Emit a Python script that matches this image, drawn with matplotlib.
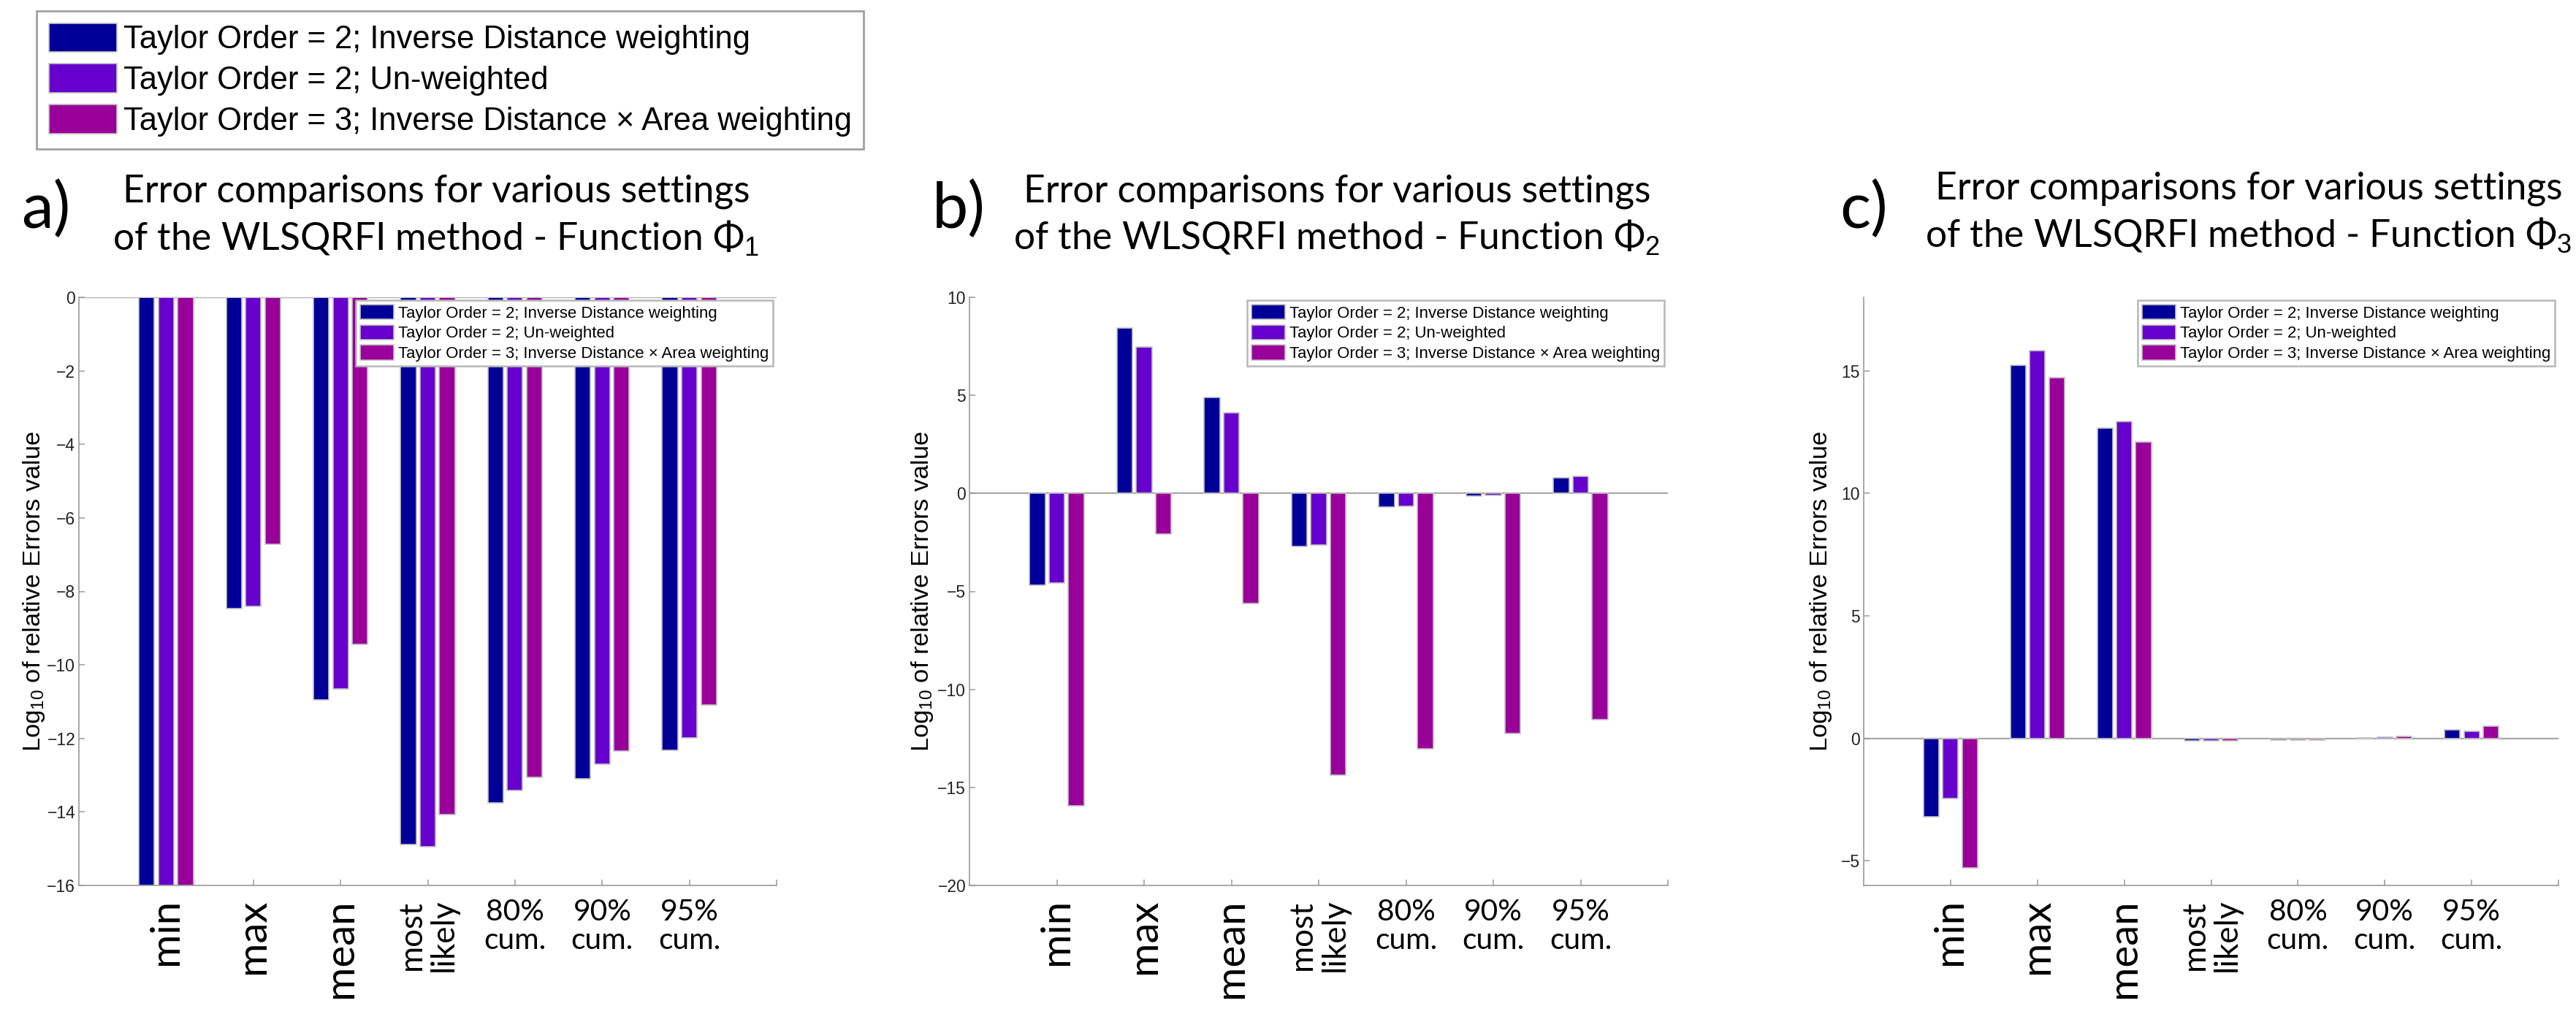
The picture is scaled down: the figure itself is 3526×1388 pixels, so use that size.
import matplotlib.pyplot as plt
import numpy as np

plt.rcParams["font.family"] = ["Liberation Sans", "DejaVu Sans"]
plt.rcParams["mathtext.fontset"] = "custom"
plt.rcParams["mathtext.rm"] = "Liberation Sans"
plt.rcParams["mathtext.it"] = "Liberation Sans:italic"

TITLE_FONT = ["Lato", "DejaVu Sans"]

# values (log10 of relative error)
categories = ["min", "max", "mean", "most\nlikely", "80%\ncum.", "90%\ncum.", "95%\ncum."]
series = [
    "Taylor Order = 2; Inverse Distance weighting",
    "Taylor Order = 2; Un-weighted",
    "Taylor Order = 3; Inverse Distance \u00d7 Area weighting",
]
colors = ["#000099", "#6600cc", "#990099"]

phi1_idw = [-16.0, -8.47, -10.95, -14.88, -13.76, -13.10, -12.33]
phi1_unw = [-16.0, -8.41, -10.65, -14.95, -13.41, -12.71, -11.98]
phi1_area = [-16.0, -6.72, -9.44, -14.07, -13.06, -12.34, -11.09]

phi2_idw = [-4.69, 8.43, 4.91, -2.69, -0.71, -0.13, 0.78]
phi2_unw = [-4.56, 7.46, 4.10, -2.64, -0.67, -0.11, 0.86]
phi2_area = [-15.93, -2.09, -5.63, -14.39, -13.03, -12.26, -11.53]

phi3_idw = [-3.21, 15.22, 12.67, -0.10, -0.08, 0.03, 0.34]
phi3_unw = [-2.46, 15.83, 12.94, -0.10, -0.08, 0.04, 0.30]
phi3_area = [-5.29, 14.72, 12.11, -0.10, -0.08, 0.09, 0.50]

W, H = 3526, 1388


def fit_size(fig, s, family, target_px, size0=20.0):
    # font size (pt) that makes string s about target_px wide
    t = fig.text(0, 0, s, fontsize=size0, family=family)
    w = t.get_window_extent(renderer=fig.canvas.get_renderer()).width
    t.remove()
    return size0 * target_px / w


def main():
    fig = plt.figure(figsize=(W / 100, H / 100), dpi=100)

    title_fs = fit_size(fig, "Error comparisons for various settings", TITLE_FONT, 862)
    tag_fs = fit_size(fig, "a)", TITLE_FONT, 67)
    big_fs = fit_size(fig, "mean", TITLE_FONT, 136)
    two_fs = fit_size(fig, "likely", TITLE_FONT, 100)
    cum_fs = fit_size(fig, "80%", TITLE_FONT, 80)
    ylab_fs = fit_size(fig, "Log$_{10}$ of relative Errors value", None, 440)
    tick_fs = fit_size(fig, "-16", None, 33)
    leg_in_fs = fit_size(fig, series[2], None, 505)
    leg_fig_fs = fit_size(fig, series[2], None, 995)

    panels = [
        dict(tag="a)", sub="1", data=(phi1_idw, phi1_unw, phi1_area),
             ylim=(-16, 0), yticks=np.arange(-16, 1, 2),
             left=108, width=955, title_x=597, tag_x=29, ylab_x=47, base=277),
        dict(tag="b)", sub="2", data=(phi2_idw, phi2_unw, phi2_area),
             ylim=(-20, 10), yticks=np.arange(-20, 11, 5),
             left=1327, width=956, title_x=1830, tag_x=1276, ylab_x=1263, base=276),
        dict(tag="c)", sub="3", data=(phi3_idw, phi3_unw, phi3_area),
             ylim=(-6, 18), yticks=np.arange(-5, 16, 5),
             left=2551, width=951, title_x=3078, tag_x=2518, ylab_x=2493, base=272),
    ]

    x = np.arange(1, len(categories) + 1)
    offsets = [-0.222, 0.0, 0.222]
    top, height = 407, 805

    for p in panels:
        ax = fig.add_axes([p["left"] / W, 1 - (top + height) / H, p["width"] / W, height / H])
        for vals, off, c, lab in zip(p["data"], offsets, colors, series):
            ax.bar(x + off, vals, width=0.178, color=c, edgecolor="#c4c4c4",
                   linewidth=1.2, label=lab, zorder=2)
        ax.axhline(0, color="#a8a8a8", lw=1.6, zorder=1)

        ax.set_xlim(0, 8)
        ax.set_ylim(*p["ylim"])
        ax.set_yticks(p["yticks"])
        ax.set_xticks(np.arange(1, 9))

        for s in ("top", "right"):
            ax.spines[s].set_visible(False)
        for s in ("left", "bottom"):
            ax.spines[s].set_color("#9a9a9a")
            ax.spines[s].set_linewidth(1.2)
        ax.tick_params(direction="in", length=6, width=1.1, color="#9a9a9a",
                       labelsize=tick_fs, labelcolor="#222222")
        ax.tick_params(axis="x", pad=13, labelcolor="black")

        ax.set_xticklabels(categories + [""])
        for t, cat in zip(ax.get_xticklabels(), categories):
            t.set_family(TITLE_FONT)
            if "%" in cat:
                t.set(fontsize=cum_fs, rotation=0, linespacing=1.05)
            elif "\n" in cat:
                t.set(fontsize=two_fs, rotation=90, linespacing=1.1)
            else:
                t.set(fontsize=big_fs, rotation=90)

        ax.set_ylabel("Log$_{10}$ of relative Errors value", fontsize=ylab_fs, va="center")
        ax.yaxis.set_label_coords((p["ylab_x"] - p["left"]) / p["width"], 0.5)

        leg = ax.legend(loc="upper right",
                        bbox_to_anchor=((p["left"] + p["width"] - 5) / W, 1 - 411 / H),
                        bbox_transform=fig.transFigure, borderaxespad=0,
                        fontsize=leg_in_fs, handlelength=2.1, handleheight=1.05,
                        handletextpad=0.25, labelspacing=0.22, borderpad=0.27,
                        fancybox=False, framealpha=1, edgecolor="#b8b8b8")
        leg.get_frame().set_linewidth(1.8)

        fig.text(p["title_x"] / W, 1 - p["base"] / H, "Error comparisons for various settings",
                 ha="center", va="baseline", fontsize=title_fs, family=TITLE_FONT)
        fig.text(p["title_x"] / W, 1 - (p["base"] + 66) / H,
                 "of the WLSQRFI method - Function \u03a6$_" + p["sub"] + "$",
                 ha="center", va="baseline", fontsize=title_fs, family=TITLE_FONT)
        fig.text(p["tag_x"] / W, 1 - 312 / H, p["tag"], ha="left", va="baseline",
                 fontsize=tag_fs, family=TITLE_FONT)

    handles, labels = fig.axes[0].get_legend_handles_labels()
    fleg = fig.legend(handles, labels, loc="upper left", bbox_to_anchor=(50 / W, 1 - 15 / H),
                      borderaxespad=0, fontsize=leg_fig_fs, handlelength=2.15, handleheight=1.03,
                      handletextpad=0.2, labelspacing=0.28, borderpad=0.38,
                      fancybox=False, framealpha=1, edgecolor="#a0a0a0")
    fleg.get_frame().set_linewidth(2)

    fig.savefig("out.png", dpi=100)


if __name__ == "__main__":
    main()
